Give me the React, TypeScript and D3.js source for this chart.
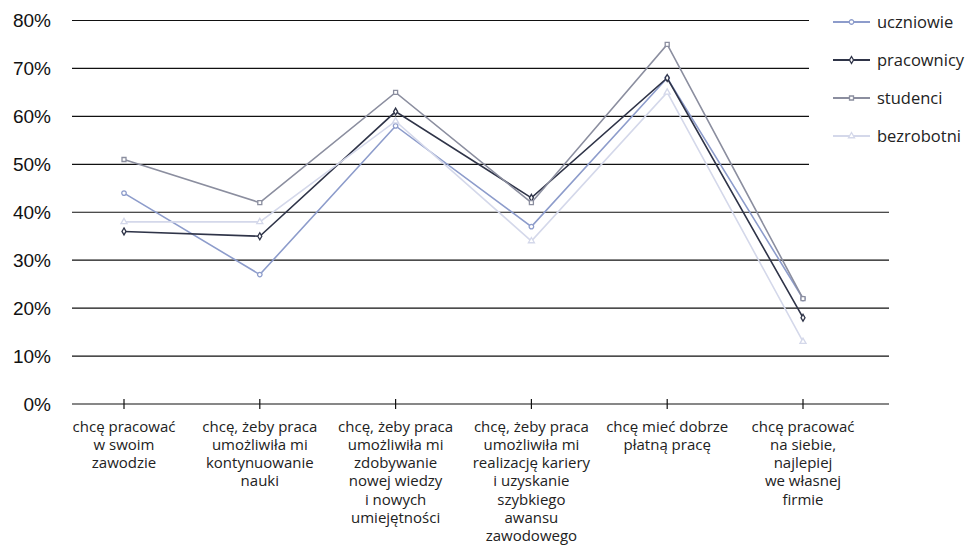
import React from "react";
import * as d3 from "d3";

const categories: string[][] = [
  ["chcę pracować", "w swoim", "zawodzie"],
  ["chcę, żeby praca", "umożliwiła mi", "kontynuowanie", "nauki"],
  ["chcę, żeby praca", "umożliwiła mi", "zdobywanie", "nowej wiedzy", "i nowych", "umiejętności"],
  ["chcę, żeby praca", "umożliwiła mi", "realizację kariery", "i uzyskanie", "szybkiego", "awansu", "zawodowego"],
  ["chcę mieć dobrze", "płatną pracę"],
  ["chcę pracować", "na siebie,", "najlepiej", "we własnej", "firmie"],
];

const seriesNames = ["uczniowie", "pracownicy", "studenci", "bezrobotni"];
const uczniowie = [44, 27, 58, 37, 68, 22];
const pracownicy = [36, 35, 61, 43, 68, 18];
const studenci = [51, 42, 65, 42, 75, 22];
const bezrobotni = [38, 38, 59, 34, 65, 13];
const seriesValues = [uczniowie, pracownicy, studenci, bezrobotni];
const seriesColors = ["#8d9ccb", "#2f3448", "#8b8e9f", "#d4d8ea"];
const seriesSymbols = [d3.symbolCircle, d3.symbolDiamond, d3.symbolSquare, d3.symbolTriangle];
const symbolSizes = [16, 14, 16, 16];
const yTicks = [0, 10, 20, 30, 40, 50, 60, 70, 80];

const W = 970;
const H = 545;
const plotLeft = 72;
const plotRight = 889;
const yTop = 20.5;
const yBottom = 404;

export default function App() {
  const x = d3
    .scalePoint<number>()
    .domain(categories.map((_, i) => i))
    .range([124, 803]);
  const y = d3.scaleLinear().domain([0, 80]).range([yBottom, yTop]);
  const line = d3
    .line<number>()
    .x((_, i) => x(i) as number)
    .y((d) => y(d));

  const catFont = "'Open Sans', sans-serif";

  return (
    <svg
      width={W}
      height={H}
      style={{ position: "absolute", left: 0, top: 0, background: "#fff" }}
    >
      {yTicks.map((t) => (
        <line
          key={t}
          x1={plotLeft}
          x2={plotRight}
          y1={y(t)}
          y2={y(t)}
          stroke="#111"
          strokeWidth={1.2}
        />
      ))}
      {yTicks.map((t) => (
        <text
          key={"l" + t}
          x={51}
          y={y(t)}
          dy="0.36em"
          textAnchor="end"
          fontFamily="'Liberation Sans', Arial, sans-serif"
          fontSize={19}
          fill="#111"
        >
          {t + "%"}
        </text>
      ))}
      {categories.map((c, i) => (
        <g key={"c" + i} transform={`translate(${x(i)},0)`}>
          <line y1={yBottom - 5} y2={yBottom + 5} stroke="#111" strokeWidth={1.2} />
          <text
            textAnchor="middle"
            fontFamily={catFont}
            fontSize={15}
            fill="#222"
          >
            {c.map((s, j) => (
              <tspan key={j} x={0} y={431.5 + j * 18.3}>
                {s}
              </tspan>
            ))}
          </text>
        </g>
      ))}
      {seriesValues.map((vals, si) => (
        <g key={"s" + si}>
          <path
            d={line(vals) || ""}
            fill="none"
            stroke={seriesColors[si]}
            strokeWidth={1.6}
          />
          {vals.map((v, i) => (
            <path
              key={i}
              transform={`translate(${x(i)},${y(v)})`}
              d={d3.symbol(seriesSymbols[si], symbolSizes[si])() || ""}
              fill="#fff"
              stroke={seriesColors[si]}
              strokeWidth={1.3}
            />
          ))}
        </g>
      ))}
      <rect x={809} y={0} width={161} height={186} fill="#fff" />
      {seriesNames.map((n, si) => {
        const ly = 22 + si * 38;
        return (
          <g key={"lg" + si}>
            <line x1={833} x2={870} y1={ly} y2={ly} stroke={seriesColors[si]} strokeWidth={1.8} />
            <path
              transform={`translate(851.5,${ly})`}
              d={d3.symbol(seriesSymbols[si], symbolSizes[si])() || ""}
              fill="#fff"
              stroke={seriesColors[si]}
              strokeWidth={1.3}
            />
            <text
              x={877}
              y={ly}
              dy="0.35em"
              fontFamily={catFont}
              fontSize={16.5}
              fill="#222"
            >
              {n}
            </text>
          </g>
        );
      })}
    </svg>
  );
}
